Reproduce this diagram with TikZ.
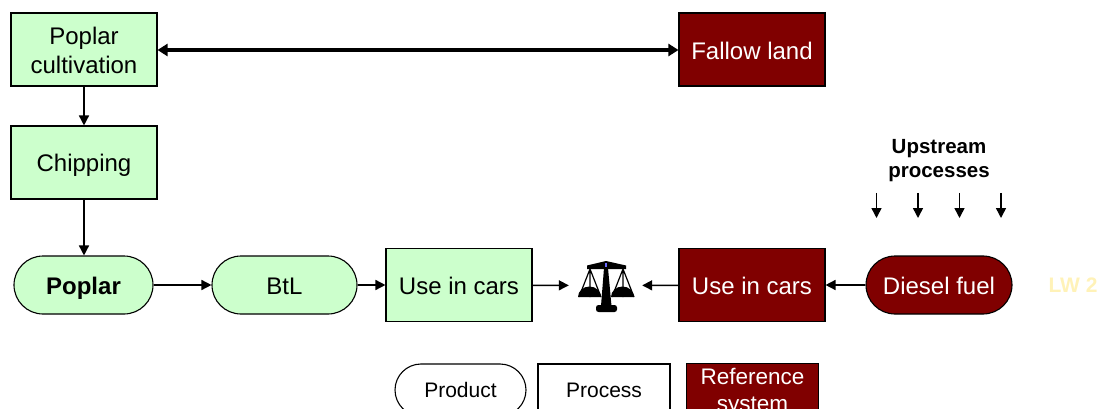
\documentclass[tikz,border=0pt]{standalone}
\usepackage{fontspec}
\setmainfont{Liberation Sans}
\usetikzlibrary{arrows.meta}
\definecolor{lgreen}{HTML}{CCFFCC}
\definecolor{dred}{HTML}{800000}
\definecolor{lwc}{HTML}{FFF2B8}
\definecolor{bluedot}{HTML}{6A6AFF}
\tikzset{
  box/.style={draw=black,line width=1.1pt,minimum width=146pt,minimum height=73pt,inner sep=0pt,align=center,font=\fontsize{24}{29}\selectfont},
  oneline/.style={text height=24pt,text depth=4.8pt},
  pill/.style={box,rounded corners=29pt,minimum height=58pt},
  greenb/.style={fill=lgreen,text=black},
  redb/.style={fill=dred,text=white},
  arr/.style={draw=black,line width=1.5pt,-{Triangle[length=10pt,width=10pt]}},
  thickarr/.style={draw=black,line width=4pt,{Triangle[length=10pt,width=12pt]}-{Triangle[length=10pt,width=12pt]}},
  legendb/.style={draw=black,line width=1.1pt,minimum width=132pt,minimum height=52pt,inner sep=0pt,align=center,font=\fontsize{21}{27}\selectfont},
}
\begin{document}
\begin{tikzpicture}[x=1pt,y=-1pt]
\useasboundingbox (0,0) rectangle (1101,409);
\clip (0,0) rectangle (1101,409);
\node[box,greenb] (cult) at (84,49.5) {\rule{0pt}{19.5pt}Poplar\\cultivation};
\node[box,redb,oneline] (fallow) at (752,49.5) {Fallow land};
\node[box,greenb,oneline,text height=22.5pt] (chip) at (84,162.5) {Chipping};
\node[pill,greenb,oneline,minimum width=139pt,font=\fontsize{24}{29}\selectfont\bfseries] (poplar) at (83.5,285) {Poplar};
\node[pill,greenb,oneline,minimum width=145pt] (btl) at (284.5,285) {BtL};
\node[box,greenb,oneline] (use1) at (459,285) {Use in cars};
\node[inner sep=0pt,minimum width=73pt,minimum height=1pt] (scales) at (605.5,285.5) {};
\node[box,redb,oneline] (use2) at (752,285) {Use in cars};
\node[pill,redb,oneline] (diesel) at (939,285) {Diesel fuel};
\node[font=\fontsize{20.5}{24}\selectfont\bfseries,align=center] (up) at (939,158.5) {\rule{0pt}{18pt}Upstream\\processes};
\node[font=\fontsize{21}{25}\selectfont\bfseries,text=lwc,text height=20pt,text depth=4.5pt,inner sep=0pt] (lw) at (1073,285) {LW 2};
\node[legendb,rounded corners=26pt,minimum width=131pt] (lprod) at (460.5,390) {Product};
\node[legendb] (lproc) at (604,390) {Process};
\node[legendb,fill=dred,text=white,font=\fontsize{22.5}{27}\selectfont] (lref) at (752.5,390) {\rule{0pt}{21pt}Reference\\system};

\coordinate (u1a) at (876.5,193); \coordinate (u1b) at (876.5,218);
\coordinate (u2a) at (918,193);   \coordinate (u2b) at (918,218);
\coordinate (u3a) at (959.5,193); \coordinate (u3b) at (959.5,218);
\coordinate (u4a) at (1001,193);  \coordinate (u4b) at (1001,218);

\draw[thickarr] ([yshift=-0.5pt]cult.east) -- ([yshift=-0.5pt]fallow.west);
\draw[arr] (cult) -- (chip);
\draw[arr] (chip) -- (chip|-poplar.north);
\draw[arr] (poplar) -- (btl);
\draw[arr] (btl) -- (use1);
\draw[arr] (use1) -- (scales);
\draw[arr] (use2) -- (scales);
\draw[arr] (diesel) -- (use2);
\draw[arr] (u1a) -- (u1b);
\draw[arr] (u2a) -- (u2b);
\draw[arr] (u3a) -- (u3b);
\draw[arr] (u4a) -- (u4b);

% balance
\fill (587,265.5) -- (606,261) -- (626,265.5) -- (626,269) -- (587,269) -- cycle;
\fill (604,268) -- (608,268) -- (611.5,306) -- (601,306) -- cycle;
\fill[rounded corners=2.5pt] (596,312) -- (596,305) -- (617,305) -- (617,312) -- cycle;
\fill (578,297) arc[start angle=180,end angle=360,x radius=11.5,y radius=10.5] -- cycle;
\fill (611,297) arc[start angle=180,end angle=360,x radius=11.5,y radius=10.5] -- cycle;
\draw[line width=1.2pt] (579,297) -- (590,269) -- (601,297) (590,269) -- (590,297);
\draw[line width=1.2pt] (612,297) -- (623,269) -- (634,297) (623,269) -- (623,297);
\fill[bluedot] (605,262.5) rectangle (607,266.5);
\end{tikzpicture}
\end{document}
